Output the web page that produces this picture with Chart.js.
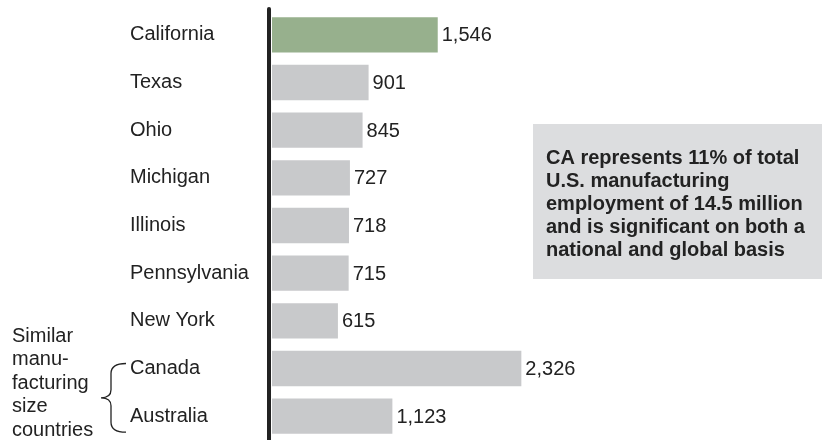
<!DOCTYPE html>
<html>
<head>
<meta charset="utf-8">
<script src="https://cdn.jsdelivr.net/npm/chart.js@4/dist/chart.umd.min.js"></script>
<style>
  html, body { margin: 0; padding: 0; background: #fff; }
  #wrap { position: relative; width: 822px; height: 440px; }
</style>
</head>
<body>
<div id="wrap"><canvas id="mfgChart" width="822" height="440"></canvas></div>
<script>
const categories = ["California", "Texas", "Ohio", "Michigan", "Illinois", "Pennsylvania", "New York", "Canada", "Australia"];
const employment = [1546, 901, 845, 727, 718, 715, 615, 2326, 1123];
const barColors = ["#97b08d", "#c8c9cb", "#c8c9cb", "#c8c9cb", "#c8c9cb", "#c8c9cb", "#c8c9cb", "#c8c9cb", "#c8c9cb"];
const noteLines = [
    "CA represents 11% of total",
    "U.S. manufacturing",
    "employment of 14.5 million",
    "and is significant on both a",
    "national and global basis"
];
const groupLabel = ["Similar", "manu-", "facturing", "size", "countries"];

const FONT = "'Liberation Sans', Arial, sans-serif";
const INK = "#222222";

// value labels at the end of each bar
const valueLabels = {
    id: "valueLabels",
    afterDatasetsDraw(chart) {
        const ctx = chart.ctx;
        const meta = chart.getDatasetMeta(0);
        ctx.save();
        ctx.font = "20px " + FONT;
        ctx.fillStyle = INK;
        ctx.textAlign = "left";
        ctx.textBaseline = "middle";
        meta.data.forEach((bar, i) => {
            ctx.fillText(employment[i].toLocaleString("en-US"), bar.x + 4, bar.y + 1);
        });
        ctx.restore();
    }
};

// thick vertical axis line, note box, bracket for countries
const extras = {
    id: "extras",
    afterDraw(chart) {
        const ctx = chart.ctx;
        const area = chart.chartArea;
        const yScale = chart.scales.y;
        ctx.save();

        // axis line
        ctx.strokeStyle = INK;
        ctx.lineWidth = 4;
        ctx.lineCap = "round";
        ctx.beginPath();
        ctx.moveTo(area.left - 3, 9);
        ctx.lineTo(area.left - 3, 445);
        ctx.stroke();

        // note box
        ctx.fillStyle = "#dcdddf";
        ctx.fillRect(533, 124, 289, 155);
        ctx.fillStyle = INK;
        ctx.font = "bold 20px " + FONT;
        ctx.textAlign = "left";
        ctx.textBaseline = "middle";
        noteLines.forEach((line, i) => ctx.fillText(line, 546, 158 + i * 23));

        // group label on the left
        ctx.font = "20px " + FONT;
        groupLabel.forEach((line, i) => ctx.fillText(line, 12, 336 + i * 23.5));

        // curly bracket spanning Canada / Australia
        const yTop = yScale.getPixelForValue(7) - 5;
        const yBot = yScale.getPixelForValue(8) + 16;
        const yMid = (yTop + yBot) / 2;
        const xR = 126, xC = 111, xL = 101;
        ctx.strokeStyle = INK;
        ctx.lineWidth = 1.3;
        ctx.lineCap = "butt";
        ctx.beginPath();
        ctx.moveTo(xR, yTop);
        ctx.quadraticCurveTo(xC, yTop, xC, yTop + 10);
        ctx.lineTo(xC, yMid - 8);
        ctx.quadraticCurveTo(xC, yMid, xL, yMid);
        ctx.quadraticCurveTo(xC, yMid, xC, yMid + 8);
        ctx.lineTo(xC, yBot - 10);
        ctx.quadraticCurveTo(xC, yBot, xR, yBot);
        ctx.stroke();

        ctx.restore();
    }
};

new Chart(document.getElementById("mfgChart"), {
    type: "bar",
    data: {
        labels: categories,
        datasets: [{
            data: employment,
            backgroundColor: barColors,
            borderWidth: 0,
            barPercentage: 0.74,
            categoryPercentage: 1
        }]
    },
    options: {
        indexAxis: "y",
        responsive: false,
        animation: false,
        events: [],
        layout: { padding: { left: 130, right: 14, top: 11, bottom: 0 } },
        scales: {
            x: {
                display: false,
                min: 0,
                max: 5000
            },
            y: {
                grid: { display: false },
                border: { display: false },
                ticks: {
                    crossAlign: "far",
                    color: INK,
                    font: { family: FONT, size: 20 },
                    padding: 0
                },
                afterFit(scale) {
                    scale.width = 142;
                    // labels fit inside their bands, no extra room needed
                    scale.paddingTop = 0;
                    scale.paddingBottom = 0;
                }
            }
        },
        plugins: {
            legend: { display: false },
            tooltip: { enabled: false }
        }
    },
    plugins: [valueLabels, extras]
});
</script>
</body>
</html>
